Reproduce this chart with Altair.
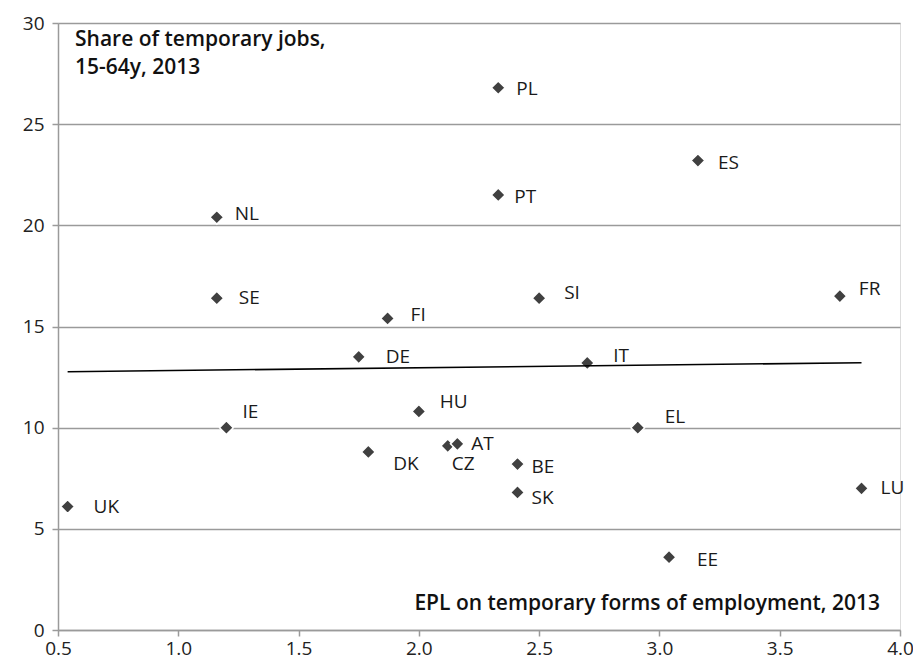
import altair as alt
import pandas as pd

countries = ["UK", "IE", "NL", "SE", "FI", "DE", "HU", "DK", "CZ", "AT", "BE",
             "SK", "IT", "PL", "PT", "SI", "ES", "FR", "EL", "LU", "EE"]
epl = [0.54, 1.20, 1.16, 1.16, 1.87, 1.75, 2.00, 1.79, 2.12, 2.16, 2.41,
       2.41, 2.70, 2.33, 2.33, 2.50, 3.16, 3.75, 2.91, 3.84, 3.04]
temp_share = [6.1, 10.0, 20.4, 16.4, 15.4, 13.5, 10.8, 8.8, 9.1, 9.2, 8.2,
              6.8, 13.2, 26.8, 21.5, 16.4, 23.2, 16.5, 10.0, 7.0, 3.6]

x_ticks = [0.5, 1.0, 1.5, 2.0, 2.5, 3.0, 3.5, 4.0]
y_ticks = [0, 5, 10, 15, 20, 25, 30]

# label offsets in pixels (placement style only)
label_dx = {"UK": 26, "IE": 16, "NL": 18, "SE": 22, "FI": 23, "DE": 27, "HU": 21,
            "DK": 25, "CZ": 4, "AT": 14, "BE": 14, "SK": 14, "IT": 26, "PL": 18,
            "PT": 16, "SI": 25, "ES": 20, "FR": 19, "EL": 27, "LU": 19, "EE": 28}
label_dy = {"UK": 0, "IE": -16, "NL": -3, "SE": 0, "FI": -3, "DE": 0, "HU": -9,
            "DK": 12, "CZ": 18, "AT": 0, "BE": 3, "SK": 6, "IT": -7, "PL": 1,
            "PT": 2, "SI": -5, "ES": 2, "FR": -7, "EL": -11, "LU": 0, "EE": 3}

df = pd.DataFrame({"country": countries, "epl": epl, "temp": temp_share})

FONT = "Open Sans"
GRID = "#9a9a9a"

xscale = alt.Scale(domain=[0.5, 4.0], nice=False, zero=False)
yscale = alt.Scale(domain=[0, 30], nice=False)

base = alt.Chart(df)

xenc = alt.X("epl:Q", scale=xscale,
             axis=alt.Axis(values=x_ticks, format=".1f", title=None, grid=False,
                           domainColor=GRID, domainWidth=1.5, tickColor=GRID,
                           tickWidth=1.5, tickSize=6, labelFontSize=19,
                           labelFont=FONT, labelColor="#222222", labelPadding=3,
                           labelFlush=False))
yenc = alt.Y("temp:Q", scale=yscale,
             axis=alt.Axis(values=y_ticks, title=None, grid=True, gridColor=GRID,
                           gridWidth=1.5, domainColor=GRID, domainWidth=1.5,
                           tickColor=GRID, tickWidth=1.5, tickSize=6,
                           labelFontSize=19, labelFont=FONT, labelColor="#222222",
                           labelPadding=8))

trend = base.mark_line(color="black", strokeWidth=1.6).encode(
    x=alt.X("epl:Q", scale=xscale), y=alt.Y("temp:Q", scale=yscale)
).transform_regression("epl", "temp")

points = base.mark_point(shape="diamond", filled=True, size=190, color="#404040",
                         stroke="white", strokeWidth=1.5, opacity=1).encode(
    x=xenc, y=yenc)

label_layers = []
for c in countries:
    label_layers.append(
        base.transform_filter(alt.datum.country == c).mark_text(
            align="left", baseline="middle", dx=label_dx[c], dy=label_dy[c],
            fontSize=19, font=FONT, color="#1a1a1a"
        ).encode(x=alt.X("epl:Q", scale=xscale), y=alt.Y("temp:Q", scale=yscale),
                 text="country:N")
    )

ytitle = alt.Chart(pd.DataFrame({"t": [["Share of temporary jobs,", "15-64y, 2013"]]})).mark_text(
    align="left", baseline="top", fontSize=21, font=FONT, fontWeight=600,
    color="#111111", lineHeight=28
).encode(x=alt.value(17), y=alt.value(6), text="t")

xtitle = alt.Chart(pd.DataFrame({"t": ["EPL on temporary forms of employment,  2013"]})).mark_text(
    align="right", baseline="middle", fontSize=21, font=FONT, fontWeight=600,
    color="#111111"
).encode(x=alt.value(822), y=alt.value(581), text="t")

chart = alt.layer(points, trend, *label_layers, ytitle, xtitle).properties(
    width=842, height=607,
    autosize=alt.AutoSizeParams(type="none"),
    padding={"left": 50, "top": 15, "right": 13, "bottom": 38},
).configure_view(stroke=None).configure(background="white")

chart.save("out.html", embed_options={"renderer": "svg", "actions": False})
